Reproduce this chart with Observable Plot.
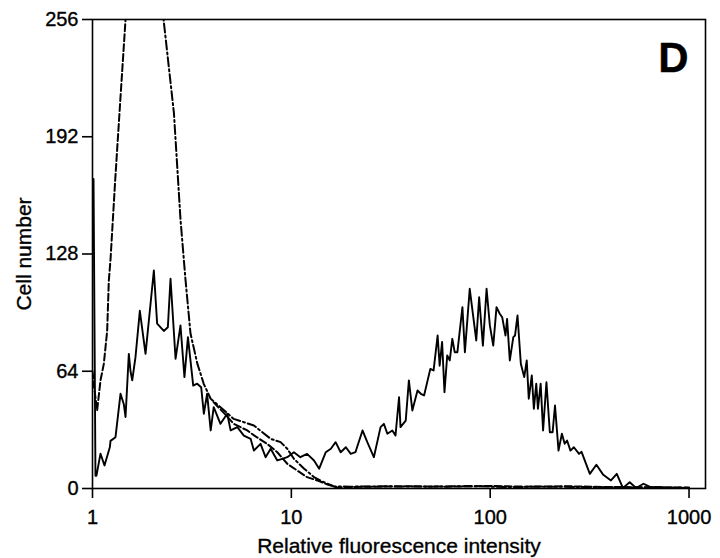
<!DOCTYPE html>
<html>
<head>
<meta charset="utf-8">
<script src="https://cdn.jsdelivr.net/npm/d3@7"></script>
<script src="https://cdn.jsdelivr.net/npm/@observablehq/plot@0.6"></script>
<style>
  html, body { margin: 0; padding: 0; background: #fff; }
  #chart { width: 720px; height: 558px; }
  #chart svg text { stroke: #000; stroke-width: 0.35px; }
</style>
</head>
<body>
<div id="chart"></div>
<script>
// ---- Data ----
const xTicks = [1, 10, 100, 1000];
const yTicks = [0, 64, 128, 192, 256];
const xLabel = "Relative fluorescence intensity";
const yLabel = "Cell number";
const panelLabel = "D";

// Solid histogram (stained sample)
const solidX = [1.012, 1.035, 1.047, 1.097, 1.149, 1.222, 1.232, 1.305, 1.383, 1.437, 1.466, 1.523, 1.553, 1.584, 1.645, 1.73, 1.848, 2.035, 2.114, 2.2, 2.284, 2.393, 2.468, 2.616, 2.77, 2.9, 3.02, 3.21, 3.36, 3.52, 3.63, 3.77, 3.93, 4.07, 4.4, 4.76, 4.95, 5.35, 5.77, 6.24, 6.48, 7.0, 7.42, 7.87, 8.5, 9.0, 9.54, 10.3, 11.1, 12.0, 13.0, 13.8, 14.9, 15.8, 16.7, 17.7, 18.8, 19.9, 21.0, 22.8, 24.1, 26.0, 28.1, 29.2, 30.4, 32.2, 33.4, 34.8, 35.4, 37.6, 39.0, 40.6, 43.1, 44.8, 46.5, 50.0, 51.9, 54.4, 55.7, 57.3, 58.9, 60.8, 62.6, 64.5, 66.3, 68.4, 72.5, 74.6, 78.9, 85.1, 88.0, 91.9, 95.9, 99.6, 103.6, 107.6, 111.7, 114.9, 119.4, 121.6, 125.5, 130.7, 133.3, 137.2, 142.6, 148.3, 152.7, 156.3, 161.9, 165.8, 170.5, 173.8, 179.4, 184.5, 191.8, 199.5, 206, 211.8, 220.6, 229.4, 236.9, 243.6, 253.3, 263.5, 279.9, 288, 317, 342, 369, 405, 433, 465, 503, 542, 590, 640, 710, 800, 890, 980];
const solidY = [169, 7, 7, 19, 12.6, 22.5, 26, 28, 51.7, 46, 39, 73.5, 64, 59, 71.7, 97, 73.5, 119, 90, 88, 86, 88, 114.5, 70.8, 89, 60.8, 82.6, 56.2, 57.2, 55.3, 40.8, 51.7, 31.7, 44.4, 35.3, 40.8, 31.7, 33.5, 28.9, 27.1, 20.7, 24.4, 17.1, 21.7, 15.3, 16.2, 17.1, 19.8, 17.1, 18.9, 15.3, 10.8, 19.8, 21.7, 25.3, 19.8, 22.5, 18.9, 19.8, 31.7, 25.3, 17.1, 33.5, 35.3, 29.9, 31.7, 28.9, 49.8, 33.5, 37, 59, 42.6, 53.5, 51.7, 50.8, 65.3, 64.4, 83.5, 67, 80, 52.6, 72.6, 69.9, 81.7, 74.4, 74.4, 99, 74.4, 109, 80.8, 104.4, 78, 109, 89, 78, 99, 95.4, 93.5, 83.5, 92.6, 69.9, 82.6, 83.5, 94.4, 68.1, 60.8, 69.9, 49, 61.7, 43.5, 57.2, 43.5, 57.2, 31.7, 58, 30.7, 30.7, 45.3, 20.7, 29.9, 24.4, 26.2, 20.7, 22.5, 18.9, 20, 8, 13, 7.7, 4.4, 8, 0.3, 3.4, 0.3, 2.6, 0.7, 0.7, 0.3, 0.5, 0];

// Dash-dot histogram (control, peak off scale)
const dashDotX = [2.1, 2.277, 2.567, 2.77, 2.93, 3.11, 3.37, 3.63, 3.93, 4.4, 5.13, 5.77, 6.48, 7.15, 7.87, 8.83, 9.54, 10.3, 11.6, 13, 14.6, 16.4, 20, 30, 50, 80, 120, 200, 300, 500, 800, 1000];
const dashDotY = [300, 256, 205, 147, 115, 84.6, 68, 57, 49, 44.4, 38, 36.2, 34.4, 30.7, 27.1, 25.3, 21.7, 16.2, 10.8, 6.2, 3.4, 1.1, 1, 1.2, 1, 1.3, 0.8, 1, 0.8, 0.6, 0.5, 0.3];

// Dashed histogram (control, peak off scale; merges with dash-dot on descent)
const dashedX = [1.0, 1.02, 1.055, 1.097, 1.14, 1.185, 1.208, 1.232, 1.30, 1.38, 1.466, 1.55, 3.0, 4.07, 4.6, 5.13, 6.0, 6.7, 7.55, 8.5, 9.54, 10.7, 12, 13.5, 15.2, 17, 25, 40, 60, 100, 150, 250, 400, 600, 1000];
const dashedY = [64, 55, 42.6, 59, 68, 86, 113.5, 125, 168, 212, 256, 300, null, 47, 41, 35.3, 31.7, 28, 24.4, 19.8, 13.5, 9.8, 6.2, 4.4, 2.2, 0.6, 1, 1.2, 1, 1.4, 1, 1.2, 0.8, 0.7, 0.5];

// ---- Build tables ----
const solid = solidX.map((x, i) => ({x, y: solidY[i]}));
const dashDot = dashDotX.map((x, i) => ({x, y: dashDotY[i]}));
const dashed = dashedX.map((x, i) => ({x, y: dashedY[i]}));

const font = "'Liberation Sans', Arial, Helvetica, sans-serif";

const chart = Plot.plot({
  width: 720,
  height: 558,
  marginLeft: 92,
  marginRight: 15,
  marginTop: 19,
  marginBottom: 70,
  style: {fontFamily: font, fontSize: "20px", color: "#000", background: "#fff", overflow: "visible"},
  x: {type: "log", domain: [1, 1210]},
  y: {domain: [0, 256]},
  marks: [
    Plot.axisX({ticks: xTicks, tickFormat: d => String(d), tickSize: 10, tickPadding: 11, label: null, fontSize: 20, strokeWidth: 1.6}),
    Plot.axisY({ticks: yTicks, tickSize: 10, tickPadding: 4, label: null, fontSize: 20, strokeWidth: 1.6}),
    Plot.line(dashed, {x: "x", y: "y", stroke: "#000", strokeWidth: 2, strokeDasharray: "7,3", clip: true}),
    Plot.line(dashDot, {x: "x", y: "y", stroke: "#000", strokeWidth: 2, strokeDasharray: "9,3,2,3", clip: true}),
    Plot.line(solid, {x: "x", y: "y", stroke: "#000", strokeWidth: 1.9, clip: true}),
    Plot.frame({stroke: "#000", strokeWidth: 1.6}),
    Plot.text([xLabel], {text: d => d, frameAnchor: "bottom", dy: 58, fontSize: 21, lineAnchor: "middle", textAnchor: "middle"}),
    Plot.text([yLabel], {text: d => d, frameAnchor: "left", dx: -68, rotate: -90, fontSize: 21, lineAnchor: "middle", textAnchor: "middle"}),
    Plot.text([panelLabel], {text: d => d, frameAnchor: "top-right", dx: -32, dy: 39, fontSize: 42, fontWeight: "bold", textAnchor: "middle", lineAnchor: "middle"})
  ]
});
document.getElementById("chart").appendChild(chart);
</script>
</body>
</html>
